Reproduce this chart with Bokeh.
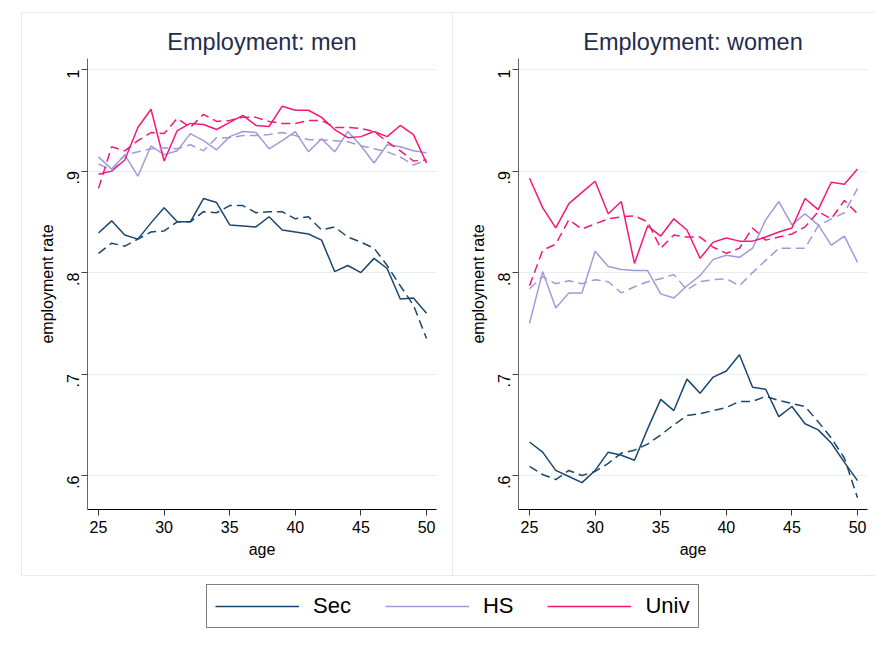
import math
from bokeh.plotting import figure
from bokeh.layouts import row, column
from bokeh.models import Range1d, FixedTicker, Legend, LegendItem
from bokeh.embed import file_html
from bokeh.resources import INLINE

ages = list(range(25, 51))

men_sec = [.839, .851, .837, .833, .849, .864, .850, .850, .873, .869, .847, .846, .845,
           .855, .842, .840, .838, .832, .801, .807, .800, .814, .804, .774, .775, .760]
men_sec_d = [.819, .829, .826, .833, .840, .841, .850, .850, .860, .859, .866, .866, .859,
             .860, .860, .853, .855, .842, .845, .835, .830, .824, .807, .787, .768, .735]
men_hs = [.914, .902, .916, .895, .925, .916, .920, .937, .930, .921, .934, .939, .938,
          .922, .930, .939, .919, .932, .919, .939, .925, .908, .926, .924, .920, .918]
men_hs_d = [.907, .901, .916, .919, .922, .923, .922, .926, .920, .933, .933, .935, .935,
            .936, .938, .935, .931, .931, .930, .929, .925, .922, .919, .914, .906, .911]
men_univ = [.897, .900, .911, .943, .961, .910, .940, .947, .946, .941, .948, .955, .945,
            .944, .964, .960, .960, .953, .941, .933, .934, .939, .934, .945, .936, .908]
men_univ_d = [.883, .924, .920, .930, .938, .937, .952, .943, .956, .949, .950, .953, .953,
              .949, .947, .947, .950, .950, .943, .943, .942, .939, .929, .920, .910, .911]

women_sec = [.633, .623, .605, .599, .593, .605, .623, .620, .615, .646, .675, .664, .695,
             .681, .697, .703, .719, .687, .685, .658, .668, .651, .645, .632, .613, .595]
women_sec_d = [.609, .601, .596, .605, .600, .604, .612, .622, .625, .631, .640, .650, .659,
               .661, .664, .667, .673, .673, .678, .674, .671, .668, .653, .637, .617, .578]
women_hs = [.750, .801, .765, .780, .780, .821, .806, .803, .802, .802, .779, .775, .787,
            .797, .813, .817, .815, .824, .852, .870, .847, .858, .847, .827, .836, .810]
women_hs_d = [.784, .796, .789, .792, .789, .793, .791, .780, .786, .791, .794, .798, .783,
              .791, .793, .794, .787, .800, .812, .824, .824, .824, .846, .853, .859, .883]
women_univ = [.893, .864, .844, .868, .879, .890, .858, .870, .809, .846, .836, .853, .842,
              .814, .830, .834, .831, .831, .835, .840, .844, .873, .862, .889, .887, .902]
women_univ_d = [.787, .822, .828, .852, .843, .848, .853, .855, .856, .850, .824, .837, .835,
                .835, .825, .819, .824, .844, .832, .835, .838, .845, .860, .853, .871, .858]

groups = ["Sec", "HS", "Univ"]
colors = ["#1a476f", "#9f9bdb", "#f7177b"]
yticks = [0.6, 0.7, 0.8, 0.9, 1.0]
ytick_labels = [".6", ".7", ".8", ".9", "1"]
xticks = [25, 30, 35, 40, 45, 50]

FONT = "Liberation Sans"
BORDER = "1px solid #e4ecee"


def panel(title, solid, dashed, width, left_border, right_border):
    p = figure(width=width, height=562, output_backend="svg", toolbar_location=None,
               x_range=Range1d(24.16, 50.76), y_range=Range1d(0.5665, 1.011),
               min_border_left=left_border, min_border_right=right_border,
               min_border_top=45, min_border_bottom=66)
    p.outline_line_color = None
    p.background_fill_color = "white"
    p.border_fill_color = "white"
    p.title.text = title
    p.title.align = "center"
    p.title.text_font = FONT
    p.title.text_font_size = "23.5px"
    p.title.text_font_style = "normal"
    p.title.text_color = "#1f2d50"
    p.title.standoff = 7

    for vals, col in zip(solid, colors):
        p.line(ages, vals, line_color=col, line_width=1.5)
    for vals, col in zip(dashed, colors):
        p.line(ages, vals, line_color=col, line_width=1.5, line_dash="9 5")

    p.xgrid.grid_line_color = None
    p.ygrid.grid_line_color = "#e6eef0"
    p.ygrid.grid_line_width = 1

    p.yaxis.ticker = FixedTicker(ticks=yticks)
    p.yaxis.major_label_overrides = dict(zip(yticks, ytick_labels))
    p.yaxis.major_label_orientation = math.pi / 2
    p.yaxis.axis_label = "employment rate"
    p.xaxis.ticker = FixedTicker(ticks=xticks)
    p.xaxis.axis_label = "age"
    for ax in (p.xaxis[0], p.yaxis[0]):
        ax.minor_tick_line_color = None
        ax.major_tick_in = 0
        ax.major_tick_out = 6
        ax.major_label_text_font = FONT
        ax.major_label_text_font_size = "16px"
        ax.major_label_text_color = "black"
        ax.axis_label_text_font = FONT
        ax.axis_label_text_font_size = "16px"
        ax.axis_label_text_font_style = "normal"
        ax.axis_label_text_color = "black"
    p.xaxis.major_label_standoff = 5
    p.xaxis.axis_label_standoff = 5
    p.yaxis.major_label_standoff = 8
    p.yaxis.axis_label_standoff = 3
    p.xaxis.axis_line_color = "black"
    p.xaxis.major_tick_line_color = "#333333"
    p.yaxis.axis_line_color = "#666666"
    p.yaxis.major_tick_line_color = "#444444"
    return p


left = panel("Employment: men", [men_sec, men_hs, men_univ],
             [men_sec_d, men_hs_d, men_univ_d], 431, 65, 17)
left.styles = {"border-right": BORDER}
right = panel("Employment: women", [women_sec, women_hs, women_univ],
              [women_sec_d, women_hs_d, women_univ_d], 422, 65, 8)

# legend figure: key lines reuse the series, drawn outside this figure's view
lf = figure(width=856, height=52, output_backend="svg", toolbar_location=None,
            min_border_left=0, min_border_right=0, min_border_top=0, min_border_bottom=0,
            x_range=Range1d(0, 1), y_range=Range1d(0, 1))
lf.outline_line_color = None
lf.xaxis.visible = False
lf.yaxis.visible = False
lf.grid.visible = False
items = []
for g, col, vals in zip(groups, colors, [men_sec, men_hs, men_univ]):
    r = lf.line(ages, vals, line_color=col, line_width=1.5)
    items.append(LegendItem(label=g, renderers=[r]))
legend = Legend(items=items, orientation="horizontal", location=(185, 0),
                label_text_font=FONT, label_text_font_size="22px",
                label_text_color="black", glyph_width=84, glyph_height=26,
                label_height=26, label_standoff=14, spacing=34, padding=8,
                margin=0, border_line_color="black", border_line_width=1,
                background_fill_alpha=1.0)
lf.add_layout(legend, "center")

top = row(left, right, styles={"border-top": BORDER, "border-left": BORDER,
                               "border-bottom": BORDER})
layout = column(top, lf, styles={"margin-left": "21px", "margin-top": "12px"})

open("out.html", "w").write(file_html(layout, INLINE))
